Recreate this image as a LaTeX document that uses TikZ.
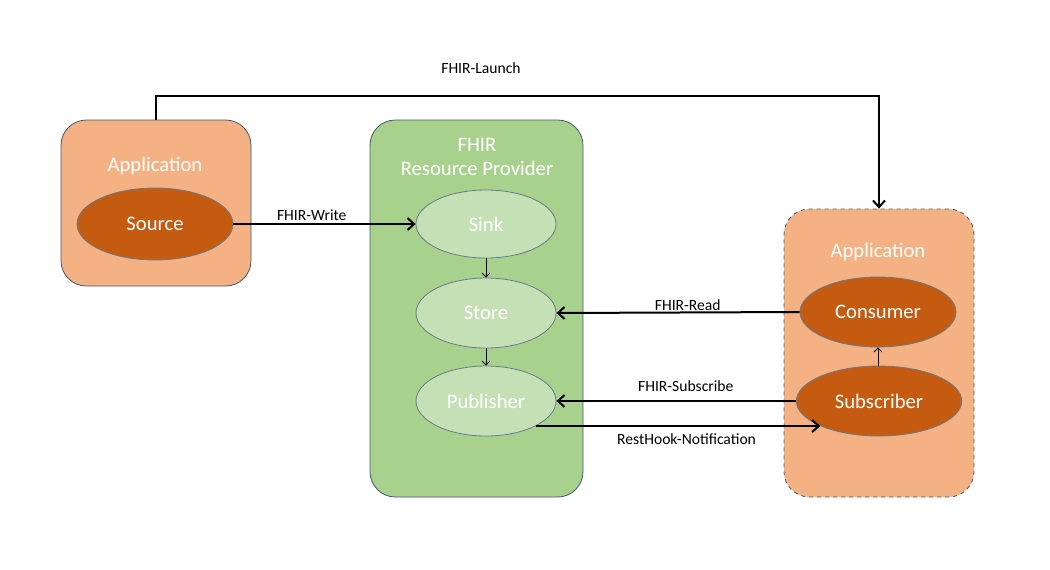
\documentclass[tikz,border=0pt]{standalone}
\usepackage{fontspec}
\setmainfont{Carlito}
\usetikzlibrary{shapes.geometric,arrows.meta}
\definecolor{appfill}{HTML}{F4B183}
\definecolor{appdark}{HTML}{C55A11}
\definecolor{srvfill}{HTML}{A9D18E}
\definecolor{srvlight}{HTML}{C5E0B4}
\definecolor{edge}{HTML}{41596E}
\begin{document}
\begin{tikzpicture}[x=0.75pt,y=-0.75pt,
  appbox/.style={draw=edge,fill=appfill,rounded corners=19pt,line width=0.6pt},
  srvbox/.style={draw=edge,fill=srvfill,rounded corners=19pt,line width=0.6pt},
  title/.style={text=white,font=\fontsize{15.5}{18}\selectfont,align=center},
  darkell/.style={ellipse,draw=edge!80,fill=appdark,line width=0.6pt,inner sep=0pt,text=white,font=\fontsize{15.5}{18}\selectfont},
  lightell/.style={ellipse,draw=edge!80,fill=srvlight,line width=0.6pt,inner sep=0pt,text=white,font=\fontsize{15.5}{18}\selectfont},
  big/.style={line width=1.5pt,-{Straight Barb[length=5pt,width=9pt]}},
  small/.style={line width=0.6pt,-{Straight Barb[length=3pt,width=6pt]}},
  lab/.style={font=\fontsize{11.7}{14}\selectfont,inner sep=2pt}]
\useasboundingbox (0,0) rectangle (1050,569);

% application (source)
\node[appbox,minimum width=142.5pt,minimum height=124.5pt] (appl) at (156,203) {};
\node[title] (appltitle) at (155,166) {Application};
\node[darkell,minimum width=117pt,minimum height=54pt] (src) at (155,224) {Source};

% resource provider
\node[srvbox,minimum width=159.75pt,minimum height=282.75pt] (prov) at (476.5,308.5) {};
\node[title] (provtitle) at (477,157) {FHIR\\Resource\ Provider};
\node[lightell,minimum width=105pt,minimum height=51pt] (sink) at (486,224) {Sink};
\node[lightell,minimum width=105pt,minimum height=52.5pt] (store) at (486,313) {Store};
\node[lightell,minimum width=105pt,minimum height=52.5pt] (pub) at (486,401) {Publisher};

% application (consumer)
\node[appbox,dashed,minimum width=142.5pt,minimum height=216pt] (appr) at (879,353) {};
\node[title] (apprtitle) at (878,252) {Application};
\node[darkell,minimum width=117pt,minimum height=52.5pt] (con) at (878,312) {Consumer};
\node[darkell,minimum width=124pt,minimum height=52.5pt] (sub) at (879,401) {Subscriber};

% liens
\coordinate (launch) at (0,96);
\draw[big] (appl.north) -- (appl.north |- launch) -| (appr.north);
\node[lab] (launchlab) at (481,68) {FHIR-Launch};

\draw[big] (src.east) -- node[lab,above,pos=0.43] {FHIR-Write} (sink.west);
\draw[small] (sink.south) -- (store.north);
\draw[small] (store.south) -- (pub.north);
\draw[big] (con.west) -- node[lab,above,pos=0.46,inner sep=1pt] {FHIR-Read} (store.east);
\draw[big] (sub.west) -- node[lab,above,pos=0.46,inner sep=6pt] {FHIR-Subscribe} (pub.east);
\draw[big] (pub.south east) -- node[lab,below,pos=0.53,inner sep=5pt] {RestHook-Notification} (sub.south west);
\draw[small] (sub.north -| con.south) -- (con.south);
\end{tikzpicture}
\end{document}
